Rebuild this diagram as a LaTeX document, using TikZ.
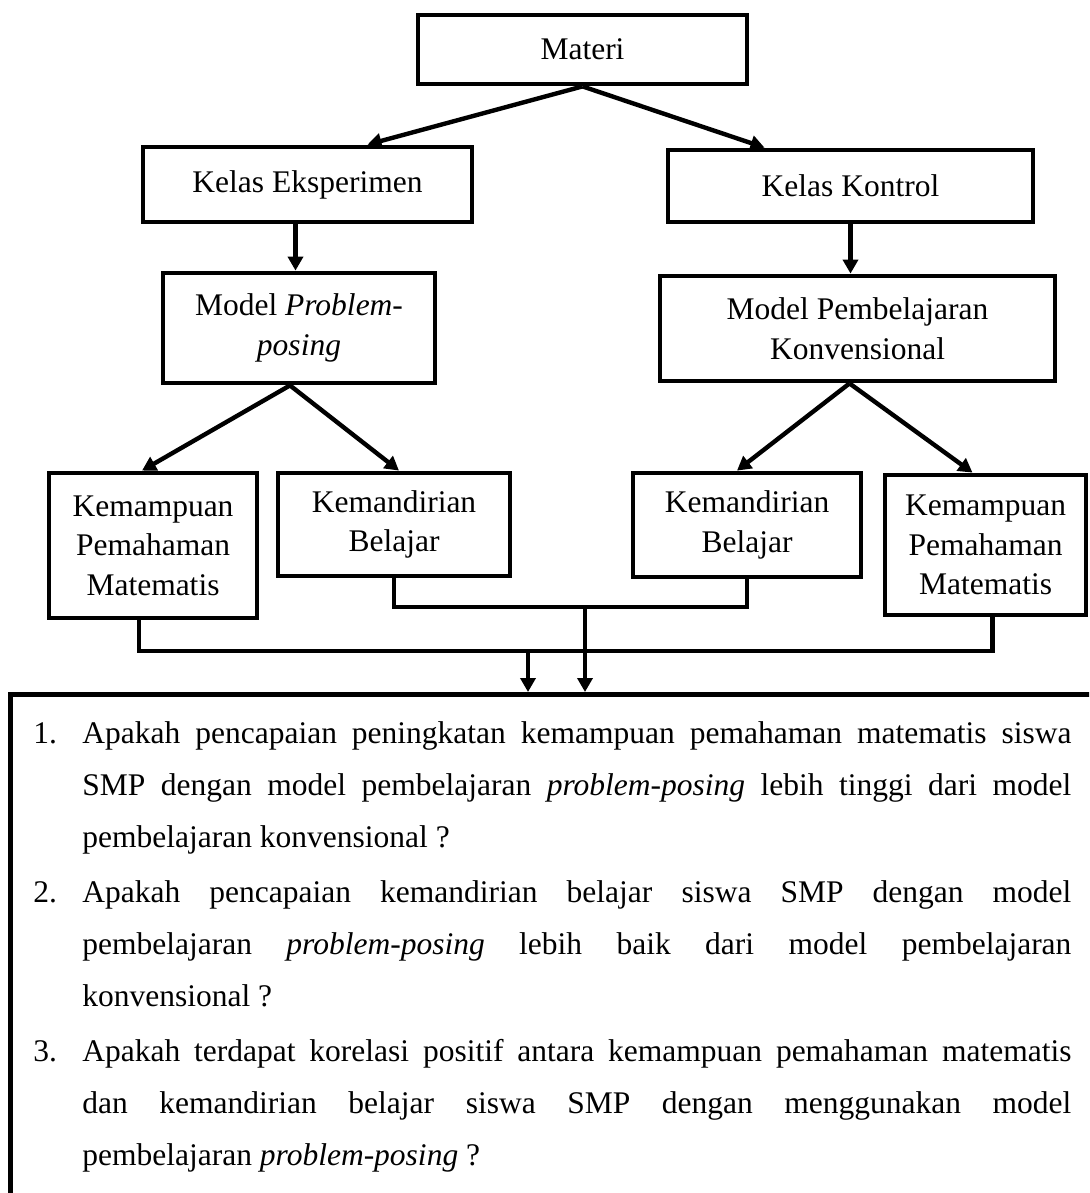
\documentclass[tikz,border=0pt]{standalone}
\usepackage{fontspec}
\setmainfont{Liberation Serif}
\usepackage{enumitem}
\usetikzlibrary{positioning, arrows.meta, calc}

\newcommand{\teksbox}{\fontsize{15.75pt}{19.75pt}\selectfont}
\newcommand{\teksmasalah}{\fontsize{15.75pt}{26pt}\selectfont}

\begin{document}
\begin{tikzpicture}[
    x=0.5pt, y=-0.5pt,
    >={Triangle[length=7pt, width=7.5pt]},
    kotak/.style={draw=black, line width=2.4pt, align=center, font=\teksbox, inner sep=2pt},
    panah/.style={->, line width=2.2pt},
    garis/.style={line width=2.2pt},
]

\useasboundingbox (0,0) rectangle (1089,1193);
\clip (0,0) rectangle (1089,1193);

% ===== Materi =====
\node[kotak, minimum width=164.5pt, minimum height=34.5pt] (materi) at (582.5,49.5) {Materi};

% ===== Kelas =====
\node[kotak, minimum width=164.5pt, minimum height=37.5pt] (kelasE) at (307.5,184.5) {Kelas Eksperimen};
\node[kotak, minimum width=182.5pt, minimum height=36pt] (kelasK) at (850.5,186) {Kelas Kontrol};

\draw[panah] (materi.south) -- ([xshift=30pt]kelasE.north);
\draw[panah] (materi.south) -- ([xshift=-43pt]kelasK.north);

% ===== Model pembelajaran =====
\node[kotak, minimum width=136pt, minimum height=55pt] (modelPP) at (299,328) {Model \textit{Problem-}\\\textit{posing}};
\node[kotak, minimum width=197.5pt, minimum height=52.5pt] (modelPK) at (857.5,328.5) {Model Pembelajaran\\Konvensional};

\coordinate (turunE) at ([xshift=-6pt]kelasE.south);
\draw[panah] (turunE) -- (turunE |- modelPP.north);
\draw[panah] (kelasK.south) -- (kelasK.south |- modelPK.north);

% ===== Variabel =====
\node[kotak, minimum width=104pt, minimum height=72.5pt] (kpE) at (153,545.5) {Kemampuan\\Pemahaman\\Matematis};
\node[kotak, minimum width=116pt, minimum height=51.5pt] (kbE) at (394,524.5) {Kemandirian\\Belajar};
\node[kotak, minimum width=114pt, minimum height=52pt] (kbK) at (747,525) {Kemandirian\\Belajar};
\node[kotak, minimum width=100.5pt, minimum height=70pt] (kpK) at (985.5,545) {Kemampuan\\Pemahaman\\Matematis};

\draw[panah] ([xshift=-4.5pt]modelPP.south) -- ([xshift=-5.5pt]kpE.north);
\draw[panah] ([xshift=-4.5pt]modelPP.south) -- ([xshift=2.5pt]kbE.north);
\draw[panah] ([xshift=-4pt]modelPK.south) -- ([xshift=-5pt]kbK.north);
\draw[panah] ([xshift=-4pt]modelPK.south) -- ([xshift=-6.5pt]kpK.north);

% ===== Rumusan masalah =====
\node[draw=black, line width=2.4pt, anchor=north west, inner xsep=0pt, inner ysep=-1.5pt,
      text width=546pt, align=justify, font=\teksmasalah] (masalah) at (8,692) {%
\hyphenpenalty=10000 \exhyphenpenalty=10000 \tolerance=9999
\begin{enumerate}[label=\arabic*., leftmargin=36pt, rightmargin=15.5pt, labelindent=11.5pt,
    labelwidth=12pt, labelsep=*, align=left, topsep=0pt, partopsep=0pt, itemsep=1.5pt, parsep=0pt]
\item Apakah pencapaian peningkatan kemampuan pemahaman matematis siswa\linebreak
SMP dengan model pembelajaran \textit{problem-posing} lebih tinggi dari model\linebreak
pembelajaran konvensional ?
\item Apakah pencapaian kemandirian belajar siswa SMP dengan model\linebreak
pembelajaran \textit{problem-posing} lebih baik dari model pembelajaran\linebreak
konvensional ?
\item Apakah terdapat korelasi positif antara kemampuan pemahaman matematis\linebreak
dan kemandirian belajar siswa SMP dengan menggunakan model\linebreak
pembelajaran \textit{problem-posing} ?
\end{enumerate}\par\vspace{40pt}\null};

% ===== Garis penghubung =====
\coordinate (gabung1) at (585,607);
\coordinate (gabung2) at (528,651);
\draw[garis] (kbE.south) |- (gabung1) -| (kbK.south);
\draw[garis] ([xshift=-7pt]kpE.south) |- (gabung2) -| ([xshift=3.5pt]kpK.south);
\draw[panah] (gabung1) -- (gabung1 |- masalah.north);
\draw[panah] (gabung2) -- (gabung2 |- masalah.north);

\end{tikzpicture}
\end{document}
